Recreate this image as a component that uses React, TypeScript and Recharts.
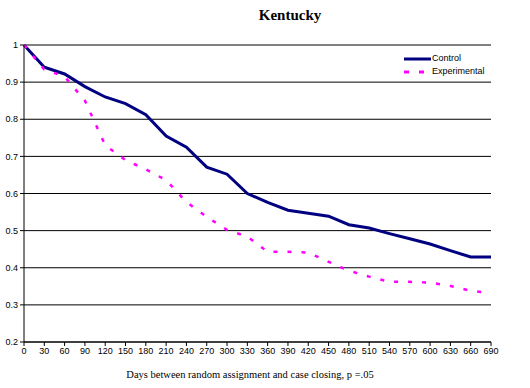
import React from "react"
import { LineChart, Line, XAxis, YAxis, CartesianGrid } from "recharts"

const days = [0, 30, 60, 90, 120, 150, 180, 210, 240, 270, 300, 330, 360, 390, 420, 450, 480, 510, 540, 570, 600, 630, 660, 690]
const control = [1.0, 0.94, 0.922, 0.888, 0.86, 0.842, 0.812, 0.755, 0.725, 0.671, 0.652, 0.6, 0.576, 0.555, 0.547, 0.539, 0.516, 0.507, 0.492, 0.478, 0.464, 0.446, 0.429, 0.429]
const experimental = [1.0, 0.934, 0.915, 0.85, 0.73, 0.69, 0.665, 0.636, 0.577, 0.537, 0.502, 0.484, 0.443, 0.443, 0.441, 0.416, 0.392, 0.376, 0.362, 0.362, 0.36, 0.351, 0.338, 0.332]
const xTicks = [0, 30, 60, 90, 120, 150, 180, 210, 240, 270, 300, 330, 360, 390, 420, 450, 480, 510, 540, 570, 600, 630, 660, 690]
const yTicks = [0.2, 0.3, 0.4, 0.5, 0.6, 0.7, 0.8, 0.9, 1]

const data = days.map((d, i) => ({ day: d, control: control[i], experimental: experimental[i] }))

const sans = "'Liberation Sans', Arial, sans-serif"
const serif = "'Liberation Serif', 'Times New Roman', serif"

export default function App() {
  return (
    <div style={{ position: "absolute", left: 0, top: 0, width: 530, height: 388, background: "#fff" }}>
      <div style={{ position: "absolute", left: 0, width: 530, top: 7, paddingLeft: 50, boxSizing: "border-box", textAlign: "center", fontFamily: serif, fontWeight: "bold", fontSize: 15, color: "#000" }}>
        Kentucky
      </div>
      <LineChart width={530} height={388} data={data} margin={{ top: 45, right: 39, bottom: 16, left: 0 }}>
        <CartesianGrid vertical={false} stroke="#000" strokeWidth={1} />
        <XAxis
          dataKey="day"
          type="number"
          domain={[0, 690]}
          ticks={xTicks}
          interval={0}
          height={30}
          stroke="#000"
          tickSize={4}
          tick={{ fill: "#000", fontSize: 9, fontFamily: sans }}
        />
        <YAxis
          type="number"
          domain={[0.2, 1]}
          ticks={yTicks}
          interval={0}
          width={24}
          stroke="#000"
          tickSize={4}
          tick={{ fill: "#000", fontSize: 9, fontFamily: sans }}
        />
        <Line type="linear" dataKey="control" stroke="#000080" strokeWidth={3} dot={false} isAnimationActive={false} />
        <Line type="linear" dataKey="experimental" stroke="#FF00FF" strokeWidth={2.5} strokeDasharray="4 10" dot={false} isAnimationActive={false} />
      </LineChart>
      <div style={{ position: "absolute", left: 404, top: 52, fontFamily: sans, fontSize: 9, color: "#000", lineHeight: "13px" }}>
        <div style={{ display: "flex", alignItems: "center" }}>
          <svg width={28} height={6}>
            <line x1={0} y1={3} x2={27} y2={3} stroke="#000080" strokeWidth={3} />
          </svg>
          <span>Control</span>
        </div>
        <div style={{ display: "flex", alignItems: "center" }}>
          <svg width={28} height={6}>
            <line x1={0} y1={3} x2={27} y2={3} stroke="#FF00FF" strokeWidth={3} strokeDasharray="5 10" />
          </svg>
          <span>Experimental</span>
        </div>
      </div>
      <div style={{ position: "absolute", left: 0, width: 500, top: 369, boxSizing: "border-box", textAlign: "center", fontFamily: serif, fontSize: 10.5, color: "#000" }}>
        Days between random assignment and case closing, p =.05
      </div>
    </div>
  )
}
